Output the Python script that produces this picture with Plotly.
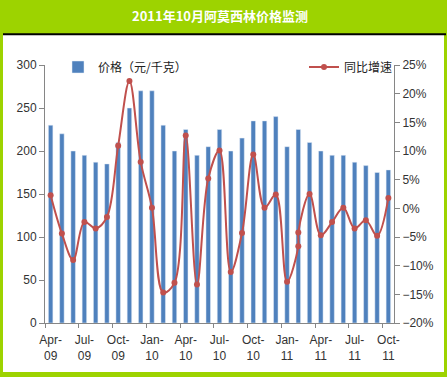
import plotly.graph_objects as go

# ---- data ----
months = ["Apr-09", "May-09", "Jun-09", "Jul-09", "Aug-09", "Sep-09", "Oct-09", "Nov-09", "Dec-09",
          "Jan-10", "Feb-10", "Mar-10", "Apr-10", "May-10", "Jun-10", "Jul-10", "Aug-10", "Sep-10",
          "Oct-10", "Nov-10", "Dec-10", "Jan-11", "Feb-11", "Mar-11", "Apr-11", "May-11", "Jun-11",
          "Jul-11", "Aug-11", "Sep-11", "Oct-11"]
price = [230, 220, 200, 195, 187, 185, 210, 250, 270, 270, 230, 200, 225, 195, 205, 225, 200, 215,
         235, 235, 240, 205, 225, 210, 200, 195, 195, 187, 183, 175, 178]

yoy_months = ["Apr-09", "May-09", "Jun-09", "Jul-09", "Aug-09", "Sep-09", "Oct-09", "Nov-09", "Dec-09",
              "Jan-10", "Feb-10", "Mar-10", "Apr-10", "May-10", "Jun-10", "Jul-10", "Aug-10", "Sep-10",
              "Oct-10", "Nov-10", "Dec-10", "Jan-11", "Feb-11", "Feb-11", "Mar-11", "Apr-11", "May-11",
              "Jun-11", "Jul-11", "Aug-11", "Sep-11", "Oct-11"]
yoy = [2.3, -4.4, -9.0, -2.4, -3.5, -1.5, 10.9, 22.2, 8.1, 0.1, -14.7, -13.0, 12.7, -13.3, 5.2, 10.1,
       -11.1, -4.3, 9.4, 0.1, 2.4, -12.8, -6.6, -4.2, 2.5, -4.7, -2.4, 0.1, -3.5, -2.1, -4.8, 1.8]

tick_months = ["Apr-09", "Jul-09", "Oct-09", "Jan-10", "Apr-10", "Jul-10", "Oct-10",
               "Jan-11", "Apr-11", "Jul-11", "Oct-11"]
tick_text = [m.replace("-", "-<br>") for m in tick_months]

title_text = "2011年10月阿莫西林价格监测"
bar_name = "价格（元/千克）"
line_name = "同比增速"

# ---- layout geometry ----
W, H = 447, 377
L, R, T, B = 45, 53, 65, 54
pw, ph = W - L - R, H - T - B

def px_x(p):
    return (p - L) / pw

def px_y(p):
    return (H - B - p) / ph

GREEN = "#9DD300"
BLUE = "#4F81BD"
RED = "#C0504D"
AX = "#868686"
TXT = "#333333"

xi = {m: i for i, m in enumerate(months)}

fig = go.Figure()
fig.add_trace(go.Bar(
    x=[xi[m] for m in months], y=price, name=bar_name, marker_color=BLUE,
    width=0.4, legend="legend", yaxis="y"))
fig.add_trace(go.Scatter(
    x=[xi[m] for m in yoy_months], y=[v / 100 for v in yoy], name=line_name, yaxis="y2",
    mode="lines+markers", line=dict(color=RED, width=2, shape="spline", smoothing=1.0),
    marker=dict(color=RED, size=6, symbol="circle"), legend="legend2"))

fig.update_layout(
    width=W, height=H,
    margin=dict(l=L, r=R, t=T, b=B, pad=0),
    paper_bgcolor=GREEN, plot_bgcolor="white",
    font=dict(family="Noto Sans CJK SC, DejaVu Sans", size=12, color=TXT),
    showlegend=True,
    bargap=0.6,
    xaxis=dict(
        range=[-0.5, len(months) - 0.5], tickmode="array",
        tickvals=[xi[m] for m in tick_months], ticktext=tick_text,
        ticks="", showline=True, linecolor=AX, linewidth=1, showgrid=False, zeroline=False,
        tickfont=dict(family="Liberation Sans", size=12, color=TXT),
        ticklabelstandoff=6,
        minor=dict(tickmode="array", tickvals=[xi[m] - 0.5 for m in tick_months],
                   ticks="outside", ticklen=4, tickcolor=AX, tickwidth=1, showgrid=False),
    ),
    yaxis=dict(
        range=[0, 300], dtick=50, tick0=0, ticks="outside", ticklen=5, tickcolor=AX,
        showline=True, linecolor=AX, linewidth=1, showgrid=False, zeroline=False,
        tickfont=dict(family="Liberation Sans", size=12, color=TXT),
    ),
    yaxis2=dict(
        range=[-0.2, 0.25], dtick=0.05, tick0=0, tickformat=".0%", overlaying="y", side="right",
        ticks="outside", ticklen=5, tickcolor=AX,
        showline=True, linecolor=AX, linewidth=1, showgrid=False, zeroline=False,
        tickfont=dict(family="Liberation Sans", size=12, color=TXT),
    ),
    legend=dict(x=px_x(58), y=px_y(67), xanchor="left", yanchor="middle",
                bgcolor="rgba(0,0,0,0)", font=dict(size=12, color="#222222"),
                itemwidth=30),
    legend2=dict(x=px_x(398), y=px_y(67), xanchor="right", yanchor="middle",
                 bgcolor="rgba(0,0,0,0)", font=dict(size=12, color="#222222"),
                 itemwidth=30),
    title=dict(text=f"<b>{title_text}</b>", x=(220 - L) / pw, xref="paper", xanchor="center",
               y=1 - 16 / H, yref="container", yanchor="middle",
               font=dict(family="Noto Sans CJK SC", size=13, color="white")),
    shapes=[
        dict(type="rect", xref="paper", yref="paper", layer="below",
             x0=px_x(3), x1=px_x(444), y0=px_y(372), y1=px_y(35),
             fillcolor="white", line=dict(width=0)),
        dict(type="line", xref="paper", yref="paper", layer="above",
             x0=px_x(3), x1=px_x(446), y0=px_y(34.3), y1=px_y(34.3),
             line=dict(color="black", width=2)),
    ],
)

fig.write_html("out.html", config={"displayModeBar": False},
               post_script="document.body.style.margin='0';")
